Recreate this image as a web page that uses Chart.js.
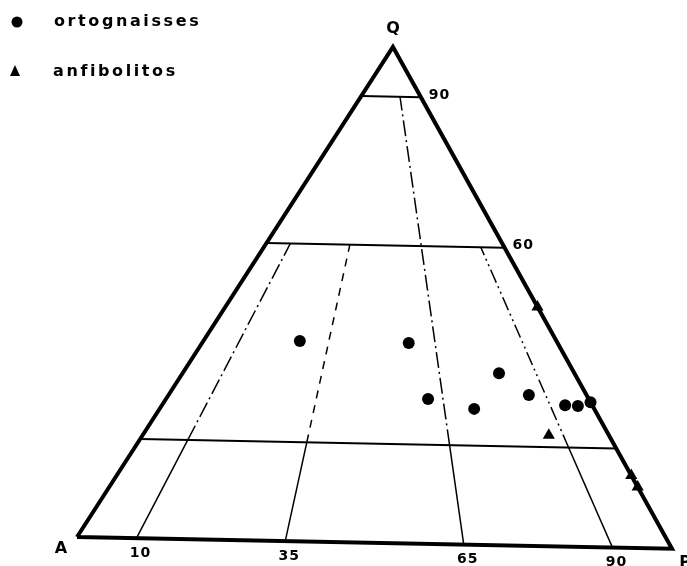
<!DOCTYPE html>
<html>
<head>
<meta charset="utf-8">
<script src="https://cdn.jsdelivr.net/npm/chart.js@4.4.1/dist/chart.umd.min.js"></script>
<style>
  html, body { margin: 0; padding: 0; background: #ffffff; }
  #wrap { width: 687px; height: 566px; position: relative; }
</style>
</head>
<body>
<div id="wrap"><canvas id="c"></canvas></div>
<script>
// ---- data (ternary compositions, percent) ----
const ortoQ = [40.4, 40.4, 29.2, 27.4, 34.7, 30.4, 28.5, 28.4, 29.2];
const ortoA = [43.6, 25.3, 27.3, 20.4, 12.8,  9.8,  4.6,  2.5,  0.0];
const ortoP = [16.0, 34.3, 43.5, 52.2, 52.5, 59.8, 66.9, 69.1, 70.8];

const anfQ = [22.4, 48.2, 14.6, 12.3];
const anfA = [10.2,  0.0,  0.0,  0.0];
const anfP = [67.4, 51.8, 85.4, 87.7];

const seriesNames = ['ortognaisses', 'anfibolitos'];
const vertexLabels = ['Q', 'A', 'P'];
const qLevels = [90, 60, 20];            // horizontal field boundaries (Q %)
const qTickLabels = ['90', '60'];        // labelled on the right edge
const pRatios = [10, 35, 65, 90];        // P/(A+P) %, field boundaries
const pTickLabels = ['10', '35', '65', '90'];
const pRatioTop = [60, 60, 90, 60];      // Q level where each boundary stops

// ---- ternary -> cartesian (slight shear/tilt like the scanned figure) ----
const SHEAR = 0.531, TILT = 0.024;
function tern(q, a, p) { return { x: p + SHEAR * q, y: q - TILT * p }; }

const ortoPts = ortoQ.map((q, i) => tern(q, ortoA[i], ortoP[i]));
const anfPts = anfQ.map((q, i) => tern(q, anfA[i], anfP[i]));

function lineDs(data, width, dash) {
  return { type: 'scatter', data, showLine: true, borderColor: '#000', borderWidth: width,
    borderDash: dash || [], pointRadius: 0, pointHoverRadius: 0, fill: false, clip: false,
    tension: 0, borderCapStyle: 'butt', borderJoinStyle: 'miter' };
}
function ratioSeg(r, q0, q1) {
  const f = r / 100;
  return [tern(q0, (1 - f) * (100 - q0), f * (100 - q0)), tern(q1, (1 - f) * (100 - q1), f * (100 - q1))];
}

const datasets = [];
// outline
datasets.push(lineDs([tern(0, 100, 0), tern(0, 0, 100), tern(100, 0, 0), tern(0, 100, 0)], 4));
// horizontal Q lines
qLevels.forEach(q => datasets.push(lineDs([tern(q, 100 - q, 0), tern(q, 0, 100 - q)], 2)));
// P/(A+P) boundaries
const upperDash = { 10: [16, 4, 2, 4], 35: [8, 7], 65: [16, 4, 2, 4], 90: [14, 4, 2, 4, 2, 4] };
pRatios.forEach((r, i) => {
  datasets.push(lineDs(ratioSeg(r, 0, 20), 1.5));
  datasets.push(lineDs(ratioSeg(r, 20, pRatioTop[i]), 1.5, upperDash[r]));
});
// markers
datasets.push({ type: 'scatter', label: seriesNames[0], data: ortoPts, pointStyle: 'circle',
  pointRadius: 6, backgroundColor: '#000', borderColor: '#000', borderWidth: 0, clip: false });
datasets.push({ type: 'scatter', label: seriesNames[1], data: anfPts, pointStyle: 'triangle',
  pointRadius: 7, backgroundColor: '#000', borderColor: '#000', borderWidth: 0, clip: false });

const FONT = '"DejaVu Sans", sans-serif';
const labelsPlugin = {
  id: 'labels',
  afterDraw(chart) {
    const ctx = chart.ctx, xs = chart.scales.x, ys = chart.scales.y;
    const px = pt => ({ x: xs.getPixelForValue(pt.x), y: ys.getPixelForValue(pt.y) });
    ctx.save();
    ctx.fillStyle = '#000';
    ctx.textBaseline = 'middle';
    // legend
    ctx.beginPath(); ctx.arc(17, 22, 5.5, 0, Math.PI * 2); ctx.fill();
    ctx.beginPath(); ctx.moveTo(15, 65); ctx.lineTo(20, 76); ctx.lineTo(10, 76); ctx.closePath(); ctx.fill();
    ctx.font = 'bold 16px ' + FONT;
    ctx.letterSpacing = '2.6px';
    ctx.textAlign = 'left';
    ctx.fillText(seriesNames[0], 54, 22);
    ctx.fillText(seriesNames[1], 53, 72);
    // vertex labels
    ctx.letterSpacing = '0px';
    ctx.font = 'bold 16px ' + FONT;
    ctx.textAlign = 'center';
    const vQ = px(tern(100, 0, 0)), vA = px(tern(0, 100, 0)), vP = px(tern(0, 0, 100));
    ctx.fillText(vertexLabels[0], vQ.x, vQ.y - 18);
    ctx.fillText(vertexLabels[1], vA.x - 16, vA.y + 12);
    ctx.fillText(vertexLabels[2], vP.x + 13, vP.y + 14);
    // Q tick labels on the right edge
    ctx.font = 'bold 14px ' + FONT;
    ctx.letterSpacing = '1px';
    qTickLabels.forEach((t, i) => {
      const q = qLevels[i];
      const p = px(tern(q, 0, 100 - q));
      ctx.textAlign = 'left';
      ctx.fillText(t, p.x + 8, p.y - 2);
    });
    // P ratio tick labels under the base
    ctx.textAlign = 'center';
    pTickLabels.forEach((t, i) => {
      const r = pRatios[i];
      const p = px(tern(0, 100 - r, r));
      ctx.fillText(t, p.x + 4, p.y + 15);
    });
    ctx.restore();
  }
};

new Chart(document.getElementById('c'), {
  type: 'scatter',
  data: { datasets },
  options: {
    responsive: true,
    maintainAspectRatio: false,
    animation: false,
    events: [],
    layout: { padding: { left: 77, right: 15, top: 47, bottom: 29 } },
    scales: {
      x: { type: 'linear', min: 0, max: 100, display: false },
      y: { type: 'linear', min: 0, max: 100, display: false }
    },
    plugins: { legend: { display: false }, tooltip: { enabled: false } }
  },
  plugins: [labelsPlugin]
});
</script>
</body>
</html>
